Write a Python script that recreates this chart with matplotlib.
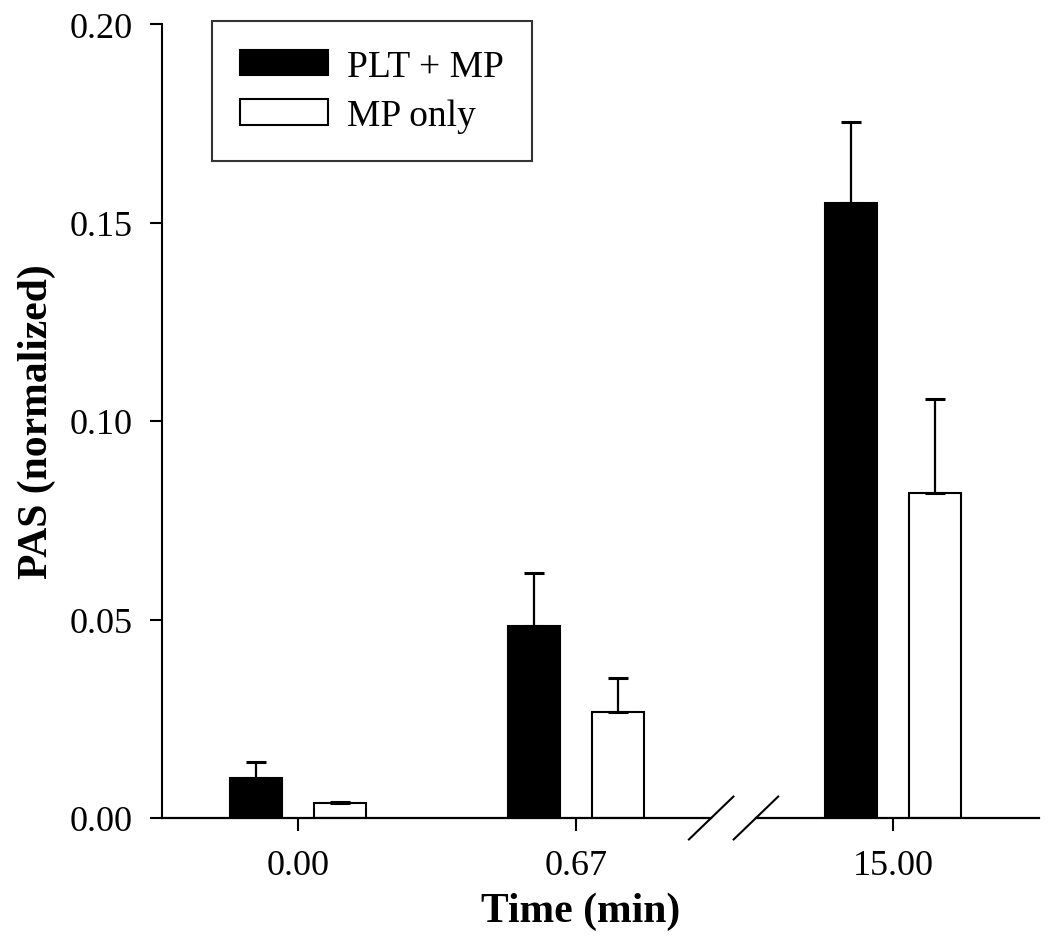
import matplotlib
matplotlib.use('Agg')
import matplotlib.pyplot as plt
import matplotlib.transforms as mtransforms
import numpy as np

times = ['0.00', '0.67', '15.00']
plt_mp = [0.0101, 0.0483, 0.1550]
plt_mp_err = [0.0040, 0.0135, 0.0204]
mp_only = [0.0037, 0.0268, 0.0818]
mp_only_err = [0.0004, 0.0085, 0.0238]

plt.rcParams['font.family'] = ['Liberation Serif', 'DejaVu Serif']

# x positions (axis is broken between 0.67 and 15.00)
pos = np.array([0, 1, 2.14])
w = 0.185
off = 0.151

fig = plt.figure(figsize=(10.5, 9.37), dpi=100)
ax = fig.add_axes([162/1050, 118/937, (1039-162)/1050, (819-25)/937])

ax.bar(pos - off, plt_mp, w, color='black', edgecolor='black', linewidth=1.5,
       label='PLT + MP')
ax.bar(pos + off, mp_only, w, color='white', edgecolor='black', linewidth=1.5,
       label='MP only')
ax.errorbar(pos - off, plt_mp, yerr=[np.zeros(3), plt_mp_err], fmt='none',
            ecolor='black', elinewidth=1.6, capsize=7.5, capthick=2.2)
ax.errorbar(pos + off, mp_only, yerr=[np.zeros(3), mp_only_err], fmt='none',
            ecolor='black', elinewidth=1.6, capsize=7.5, capthick=2.2)

ax.set_xlim(-0.489, 2.665)
ax.set_ylim(0, 0.20)
ax.set_yticks([0.0, 0.05, 0.10, 0.15, 0.20])
ax.set_yticklabels(['0.00', '0.05', '0.10', '0.15', '0.20'])
ax.set_xticks(pos)
ax.set_xticklabels(times)
ax.tick_params(direction='out', length=9, width=1.5, labelsize=26)
ax.tick_params(axis='y', pad=12)
ax.tick_params(axis='x', pad=13)

for s in ['top', 'right', 'bottom']:
    ax.spines[s].set_visible(False)
ax.spines['left'].set_linewidth(1.5)

# broken x axis drawn by hand
trans = mtransforms.blended_transform_factory(ax.transData, ax.transAxes)
b1, b2 = 1.486, 1.647
dx, dy = 0.080, 0.027
ax.plot([-0.489, b1], [0, 0], color='black', lw=1.6, transform=trans, clip_on=False)
ax.plot([b2, 2.665], [0, 0], color='black', lw=1.6, transform=trans, clip_on=False)
for b in [b1, b2]:
    ax.plot([b - dx, b + dx], [-dy, dy], color='black', lw=1.5,
            transform=trans, clip_on=False)

ax.set_ylabel('PAS (normalized)', fontsize=30, fontweight='bold', labelpad=10)
ax.set_xlabel('Time (min)', fontsize=30, fontweight='bold')
ax.xaxis.set_label_coords(0.477, -0.092)

leg = ax.legend(loc='upper left', bbox_to_anchor=(212/1050, 1 - 22/937),
                bbox_transform=fig.transFigure, fontsize=27, frameon=True,
                fancybox=False, edgecolor='black', borderpad=0.75,
                borderaxespad=0, handlelength=2.35, handleheight=0.67,
                handletextpad=0.5, labelspacing=0.4)
leg.get_frame().set_linewidth(1.5)

plt.savefig('out.png', dpi=100)
